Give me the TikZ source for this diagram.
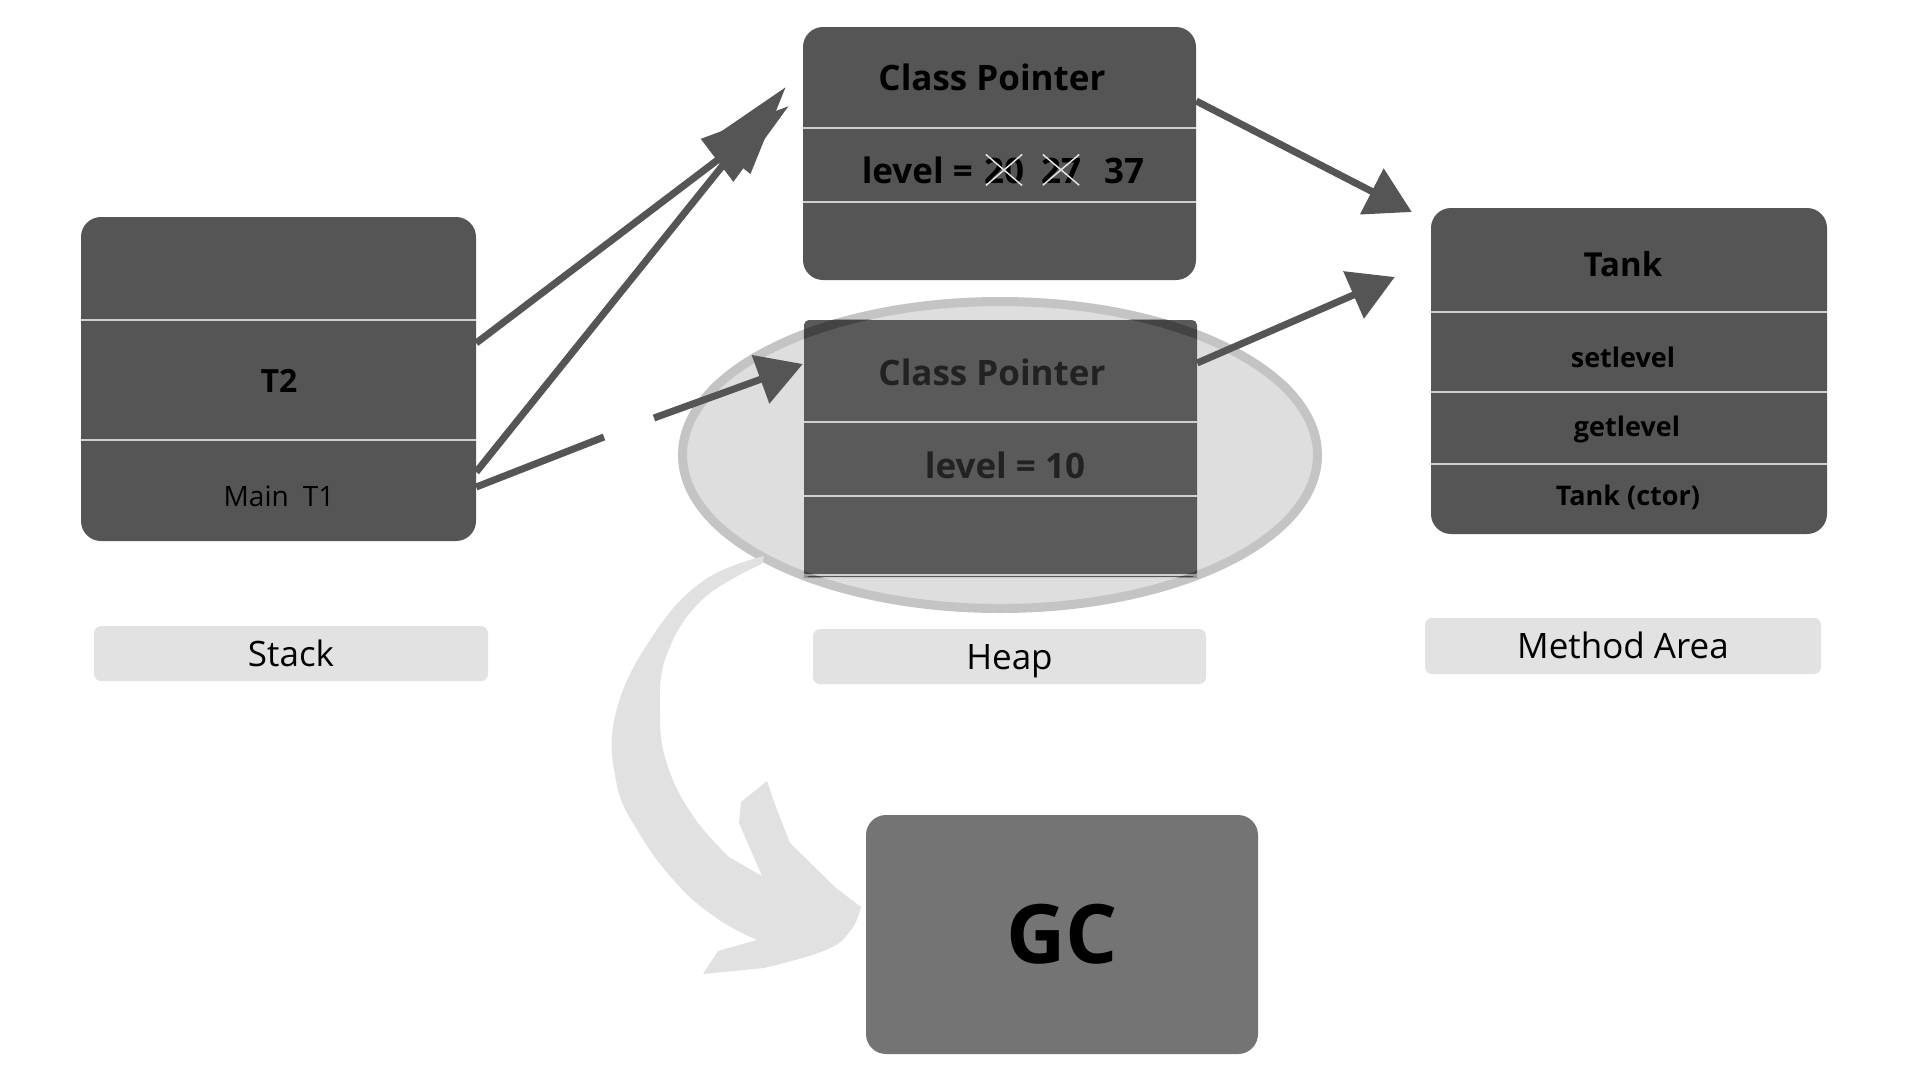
\documentclass[tikz,border=0pt]{standalone}
\usepackage{fontspec}
\setmainfont{Open Sans}
\usetikzlibrary{arrows.meta,positioning}
\definecolor{boxgray}{HTML}{555555}
\definecolor{heapgray}{HTML}{5A5A5A}
\definecolor{gcgray}{HTML}{747474}
\definecolor{taggray}{HTML}{E2E2E2}
\definecolor{divgray}{HTML}{CFCFCF}
\definecolor{ringfill}{HTML}{DEDEDE}
\definecolor{ringline}{HTML}{C4C4C4}
\definecolor{swooshgray}{HTML}{E1E1E1}
\definecolor{dimtext}{HTML}{222222}
\tikzset{
  membox/.style={fill=boxgray, rounded corners=20pt, inner sep=0pt, minimum width=395pt},
  tag/.style={fill=taggray, rounded corners=7pt, inner sep=0pt, minimum height=55pt, text height=25pt, text depth=0pt, font=\fontsize{35}{40}\selectfont},
  divider/.style={draw=divgray, line width=1.5pt},
  shaft/.style={draw=boxgray, line width=7pt},
  ptr/.style={shaft, -{Triangle[length=45pt,width=50pt]}},
  longptr/.style={shaft, -{Triangle[length=90pt,width=52pt]}},
  fieldtxt/.style={font=\bfseries\fontsize{35}{40}\selectfont, inner sep=0pt},
  methodtxt/.style={font=\bfseries\fontsize{27}{32}\selectfont, inner sep=0pt},
  strike/.style={draw=taggray, line width=1.5pt},
  ring/.style={line width=9pt},
}
\begin{document}
\begin{tikzpicture}[x=1pt, y=-1pt]
  \fill[white] (0,0) rectangle (1920,1080);
  \useasboundingbox (0,0) rectangle (1920,1080);
  % heap ring and the way to GC
  \filldraw[ring, fill=ringfill, draw=ringline] (1000,455) ellipse [x radius=317.5, y radius=153.5];
  \fill[swooshgray] plot[smooth, tension=0.7] coordinates {(764,556) (703,581) (652,637) (616,712) (616,781) (639,833) (678,885) (718,919) (757,940)}
    -- (718,951) -- (703,974)
    -- plot[smooth, tension=0.7] coordinates {(764,968) (826,950) (851,930) (861,907)}
    -- (836,888) -- (790,843) -- (774,802) -- (767,781) -- (741,802) -- (739,823) -- (762,876)
    -- plot[smooth, tension=0.7] coordinates {(729,857) (693,816) (667,764) (660,712) (667,654) (703,599) (762,564)} -- cycle;

  % stack
  \node[membox, minimum height=324pt] (stack) at (278.5,379) {};
  \foreach \y in {320,440} \draw[divider] (81,\y) -- (476,\y);
  \node[font=\bfseries\fontsize{32}{36}\selectfont, inner sep=0pt] (t2) at (279,381) {T2};
  \node[font=\fontsize{28}{32}\selectfont, inner sep=0pt] (t1) at (279,496) {Main\enspace T1};
  \node[tag, minimum width=394pt] (stacktag) at (291,653.5) {Stack};

  % heap objects
  \node[membox, minimum width=393pt, minimum height=253pt] (heapA) at (999.5,153.5) {};
  \foreach \y in {128,202} \draw[divider] (803,\y) -- (1196,\y);
  \node[fieldtxt] (ptrA) at (992,77) {Class Pointer};
  \node[fieldtxt, anchor=base east] (lvlA) at (973,183) {level =};
  \node[fieldtxt, anchor=base] (n20) at (1004,183) {20};
  \node[fieldtxt, anchor=base] (n27) at (1061,183) {27};
  \node[fieldtxt, anchor=base] (n37) at (1124,183) {37};
  \foreach \n in {n20,n27} {
    \draw[strike] ([shift={(2pt,3pt)}]\n.north west) -- ([shift={(-2pt,-2pt)}]\n.south east);
    \draw[strike] ([shift={(-2pt,3pt)}]\n.north east) -- ([shift={(2pt,-2pt)}]\n.south west);
  }
  \node[membox, fill=heapgray, rounded corners=5pt, minimum width=393pt, minimum height=257pt] (heapB) at (1000.5,448.5) {};
  \foreach \y in {422,496,575} \draw[divider] (804,\y) -- (1197,\y);
  \node[fieldtxt, text=dimtext] (ptrB) at (992,372) {Class Pointer};
  \node[fieldtxt, text=dimtext] (lvlB) at (1005,465) {level = 10};
  \node[tag, minimum width=393pt] (heaptag) at (1009.5,656.5) {Heap};

  % method area
  \node[membox, minimum width=396pt, minimum height=326pt] (tank) at (1629,371) {};
  \foreach \y in {312,392,464} \draw[divider] (1431,\y) -- (1827,\y);
  \node[font=\bfseries\fontsize{33}{38}\selectfont, inner sep=0pt] (tankT) at (1623,264) {Tank};
  \node[methodtxt] (setlvl) at (1623,357) {setlevel};
  \node[methodtxt] (getlvl) at (1627,429) {getlevel};
  \node[methodtxt] (ctor) at (1628,497) {Tank (ctor)};
  \node[tag, minimum width=396pt, minimum height=56pt] (methodtag) at (1623,646) {Method Area};

  % garbage collector
  \node[membox, fill=gcgray, minimum width=392pt, minimum height=239pt, font=\bfseries\fontsize{82}{90}\selectfont] (gc) at (1062,934.5) {GC};

  % references
  \coordinate (gapA) at (604,437);
  \coordinate (gapB) at (654,418);
  \draw[longptr] ([yshift=36pt]stack.east) -- ([xshift=-14pt,yshift=47.5pt]heapA.west);
  \draw[longptr] ([yshift=-93pt]stack.east) -- ([xshift=-17pt,yshift=66.5pt]heapA.west);
  \draw[shaft] ([yshift=-108pt]stack.east) -- (gapA);
  \draw[ptr] (gapB) -- ([xshift=-1pt,yshift=84.5pt]heapB.west);
  \draw[ptr] ([yshift=52.5pt]heapA.east) -- ([xshift=-19pt,yshift=159pt]tank.west);
  \draw[ptr] ([yshift=85.5pt]heapB.east) -- ([xshift=-36pt,yshift=94pt]tank.west);

  % ring seen through the lower object
  \begin{scope}
    \clip (heapB.north west) rectangle (heapB.south east);
    \draw[ring, black, opacity=0.25] (1000,455) ellipse [x radius=317.5, y radius=153.5];
  \end{scope}
\end{tikzpicture}
\end{document}
